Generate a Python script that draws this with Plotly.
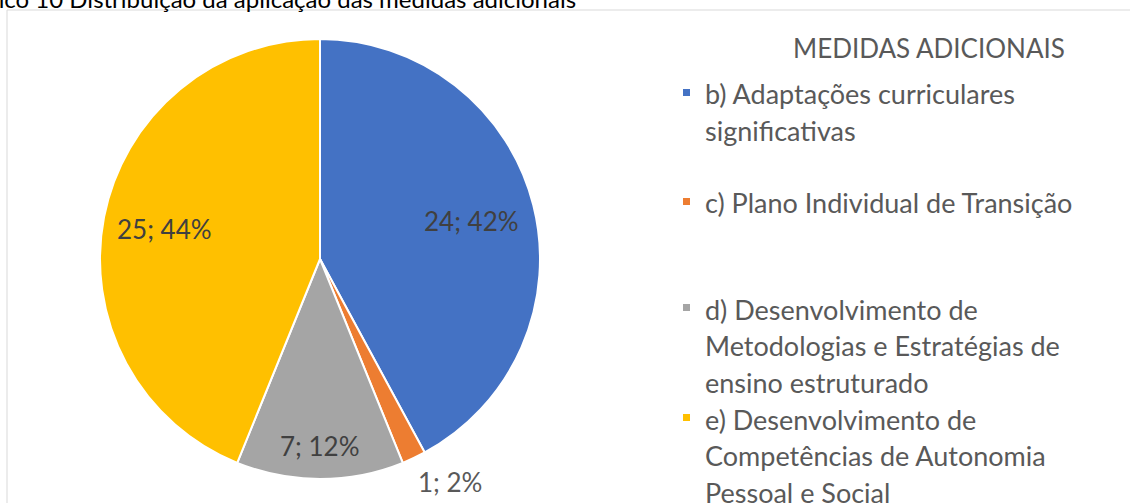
import math
import plotly.graph_objects as go

W, H = 1130, 503

# data
labels = [
    "b) Adaptações curriculares significativas",
    "c) Plano Individual de Transição",
    "d) Desenvolvimento de Metodologias e Estratégias de ensino estruturado",
    "e) Desenvolvimento de Competências de Autonomia Pessoal e Social",
]
values = [24, 1, 7, 25]
colors = ["#4472C4", "#ED7D31", "#A5A5A5", "#FFC000"]

# legend text as wrapped in the original (Excel style)
legend_lines = [
    ["b) Adaptações curriculares", "significativas"],
    ["c) Plano Individual de Transição"],
    ["d) Desenvolvimento de", "Metodologias e Estratégias de", "ensino estruturado"],
    ["e) Desenvolvimento de", "Competências de Autonomia", "Pessoal e Social"],
]
legend_top = [95, 204, 310, 420]   # px, first line of each entry
line_step = 36.5

# where Excel put each data label, as a fraction of the pie radius
label_r = [0.71, 1.12, 0.85, 0.72]

FONT = "Lato"
TXT = "#595959"

# pie geometry in pixels
cx, cy, R = 320, 259, 220


def px(x):
    return x / W


def py(y):
    return 1 - y / H


pie = go.Pie(
    labels=labels,
    values=values,
    sort=False,
    direction="clockwise",
    rotation=0,
    showlegend=False,
    textinfo="none",
    marker=dict(colors=colors, line=dict(color="white", width=2)),
    domain=dict(x=[px(cx - R), px(cx + R)], y=[py(cy + R), py(cy - R)]),
    hoverinfo="label+value+percent",
)

fig = go.Figure(pie)

annotations = [
    # cut-off figure caption above the chart frame
    dict(text="Gráfico 10 Distribuição da aplicação das medidas adicionais",
         x=px(578), y=py(15), xanchor="right", yanchor="bottom",
         font=dict(family=FONT, size=24, color="black")),
    dict(text="MEDIDAS ADICIONAIS", x=px(929), y=py(48),
         xanchor="center", yanchor="middle",
         font=dict(family=FONT, size=26, color=TXT)),
]

# data labels "value; percent" placed along each slice's mid angle
total = sum(values)
acc = 0
for v, rf in zip(values, label_r):
    mid = (acc + v / 2) / total * 2 * math.pi
    acc += v
    lx = cx + rf * R * math.sin(mid)
    ly = cy - rf * R * math.cos(mid)
    outside = rf > 1
    annotations.append(dict(
        text=f"{v}; {round(100 * v / total)}%",
        x=px(lx), y=py(ly),
        xanchor="left" if outside else "center", yanchor="middle",
        xshift=-9 if outside else 0,
        font=dict(family=FONT, size=26, color=TXT if outside else "#404040")))

shapes = [
    dict(type="rect", xref="paper", yref="paper",
         x0=px(7), x1=px(1140), y0=py(515), y1=py(10),
         line=dict(color="#D9D9D9", width=1), fillcolor="rgba(0,0,0,0)"),
]

for lines, top, col in zip(legend_lines, legend_top, colors):
    shapes.append(dict(type="rect", xref="paper", yref="paper",
                       x0=px(683), x1=px(690), y0=py(top + 1), y1=py(top - 6),
                       line=dict(width=0), fillcolor=col))
    for i, t in enumerate(lines):
        annotations.append(dict(text=t, x=px(703), y=py(top + i * line_step - 1),
                                xanchor="left", yanchor="middle",
                                font=dict(family=FONT, size=27, color=TXT)))

for a in annotations:
    a.update(xref="paper", yref="paper", showarrow=False)

fig.update_layout(
    width=W, height=H,
    margin=dict(l=0, r=0, t=0, b=0),
    paper_bgcolor="white",
    plot_bgcolor="white",
    annotations=annotations,
    shapes=shapes,
)

# drop the browser's default 8px body margin so the page lines up with the figure
fig.write_html("out.html", config={"displayModeBar": False},
               post_script="document.body.style.margin = '0';")
